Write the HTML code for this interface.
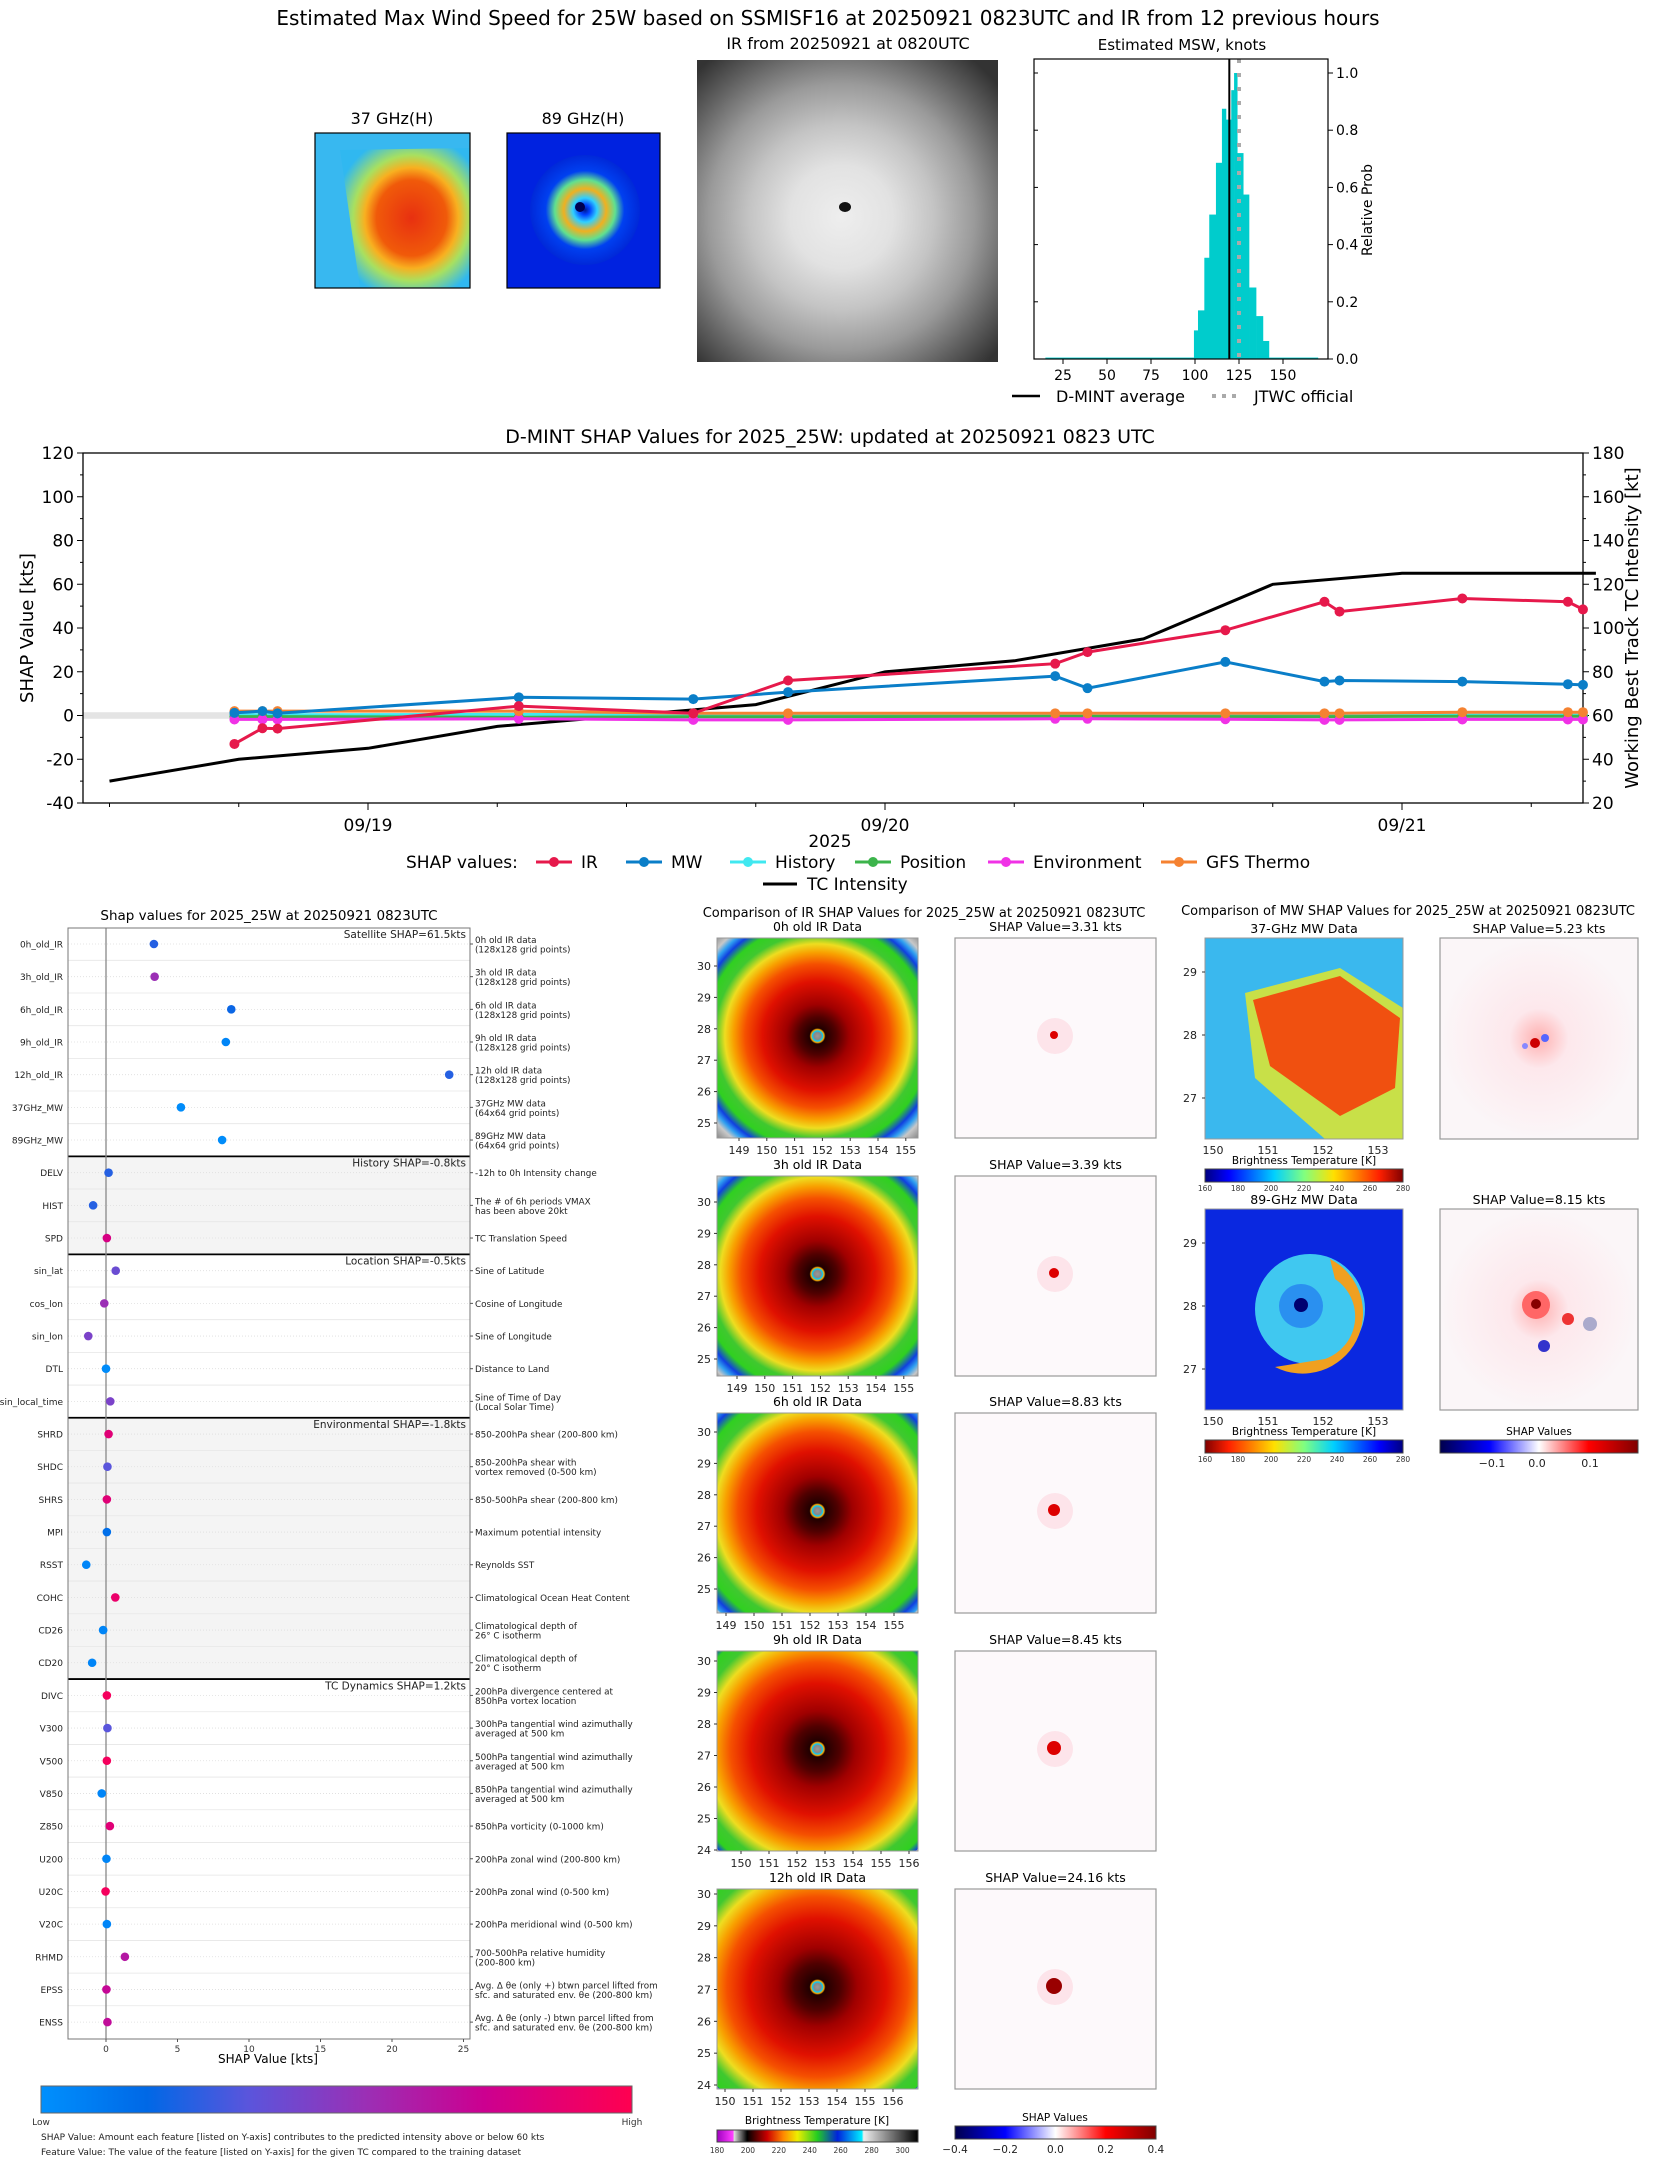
<!DOCTYPE html>
<html><head><meta charset="utf-8">
<style>
body{margin:0;background:#fff;}
svg{display:block;font-family:"DejaVu Sans","Liberation Sans",sans-serif;}
</style></head>
<body>
<svg id="root" width="1655" height="2158" viewBox="0 0 1655 2158" xmlns="http://www.w3.org/2000/svg">
<defs>
  <radialGradient id="gIRgray" cx="0.48" cy="0.52" r="0.68">
    <stop offset="0" stop-color="#eeeeee"/><stop offset="0.25" stop-color="#e2e2e2"/><stop offset="0.45" stop-color="#c4c4c4"/><stop offset="0.65" stop-color="#9a9a9a"/><stop offset="0.85" stop-color="#5e5e5e"/><stop offset="1" stop-color="#333"/>
  </radialGradient>
  <radialGradient id="g37" cx="0.55" cy="0.5" r="0.6">
    <stop offset="0" stop-color="#e83010"/><stop offset="0.45" stop-color="#f05a0a"/><stop offset="0.6" stop-color="#f8b020"/><stop offset="0.75" stop-color="#a8e060"/><stop offset="1" stop-color="#30b8f0"/>
  </radialGradient>
  <radialGradient id="g89" cx="0.5" cy="0.5" r="0.55">
    <stop offset="0" stop-color="#001890"/><stop offset="0.08" stop-color="#0040ff"/><stop offset="0.2" stop-color="#30d0ff"/><stop offset="0.35" stop-color="#f0b020"/><stop offset="0.5" stop-color="#60e090"/><stop offset="0.65" stop-color="#0040f0"/><stop offset="1" stop-color="#0020d0"/>
  </radialGradient>
  <radialGradient id="gSHAPm" cx="0.5" cy="0.5" r="0.5">
    <stop offset="0" stop-color="#ffb0b0"/><stop offset="0.3" stop-color="#fde8ec"/><stop offset="1" stop-color="#fbf6f8"/>
  </radialGradient>
  <linearGradient id="cbShap" x1="0" x2="1">
    <stop offset="0" stop-color="#0090fd"/><stop offset="0.18" stop-color="#0068e6"/><stop offset="0.35" stop-color="#5a55dc"/><stop offset="0.55" stop-color="#9b2fb5"/><stop offset="0.75" stop-color="#cc0090"/><stop offset="1" stop-color="#ff0050"/>
  </linearGradient>
  <linearGradient id="cbIR" x1="0" x2="1">
    <stop offset="0" stop-color="#a000c0"/><stop offset="0.08" stop-color="#ff40ff"/><stop offset="0.085" stop-color="#ddd"/><stop offset="0.15" stop-color="#000"/><stop offset="0.25" stop-color="#c00"/><stop offset="0.33" stop-color="#f80"/><stop offset="0.4" stop-color="#ee0"/><stop offset="0.5" stop-color="#2c2"/><stop offset="0.6" stop-color="#02d"/><stop offset="0.72" stop-color="#0ef"/><stop offset="0.73" stop-color="#eee"/><stop offset="1" stop-color="#000"/>
  </linearGradient>
  <linearGradient id="cbJet" x1="0" x2="1">
    <stop offset="0" stop-color="#000080"/><stop offset="0.12" stop-color="#0000ff"/><stop offset="0.35" stop-color="#00d0ff"/><stop offset="0.5" stop-color="#80ff80"/><stop offset="0.65" stop-color="#ffe000"/><stop offset="0.88" stop-color="#ff2000"/><stop offset="1" stop-color="#800000"/>
  </linearGradient>
  <linearGradient id="cbJetR" x1="1" x2="0">
    <stop offset="0" stop-color="#000080"/><stop offset="0.12" stop-color="#0000ff"/><stop offset="0.35" stop-color="#00d0ff"/><stop offset="0.5" stop-color="#80ff80"/><stop offset="0.65" stop-color="#ffe000"/><stop offset="0.88" stop-color="#ff2000"/><stop offset="1" stop-color="#800000"/>
  </linearGradient>
  <linearGradient id="cbSeis" x1="0" x2="1">
    <stop offset="0" stop-color="#00004c"/><stop offset="0.25" stop-color="#0000ff"/><stop offset="0.5" stop-color="#ffffff"/><stop offset="0.75" stop-color="#ff0000"/><stop offset="1" stop-color="#800000"/>
  </linearGradient>
</defs>

<text x="828" y="25" font-size="20" text-anchor="middle">Estimated Max Wind Speed for 25W based on SSMISF16 at 20250921 0823UTC and IR from 12 previous hours</text>

<text x="392" y="124" font-size="16" text-anchor="middle">37 GHz(H)</text>
<g>
  <rect x="315" y="133" width="155" height="155" fill="#38b8f0"/>
  <polygon points="340,150 470,148 470,288 360,288" fill="url(#g37)"/>
  <rect x="315" y="133" width="155" height="155" fill="none" stroke="#000" stroke-width="1.2"/>
</g>
<text x="583" y="124" font-size="16" text-anchor="middle">89 GHz(H)</text>
<g>
  <rect x="507" y="133" width="153" height="155" fill="#0022e0"/>
  <circle cx="585" cy="210" r="55" fill="url(#g89)"/>
  <circle cx="580" cy="207" r="5" fill="#000050"/>
  <rect x="507" y="133" width="153" height="155" fill="none" stroke="#000" stroke-width="1.2"/>
</g>
<text x="848" y="49" font-size="16" text-anchor="middle">IR from 20250921 at 0820UTC</text>
<g>
  <rect x="697" y="60" width="301" height="302" fill="url(#gIRgray)"/>
  <ellipse cx="845" cy="207" rx="6" ry="5" fill="#111"/>
</g>
<text x="1182" y="50" font-size="15" text-anchor="middle">Estimated MSW, knots</text>
<g id="hist"></g>

<text x="830" y="443" font-size="19" text-anchor="middle">D-MINT SHAP Values for 2025_25W: updated at 20250921 0823 UTC</text>
<g id="ts"></g>

<text x="269" y="920" font-size="13.5" text-anchor="middle">Shap values for 2025_25W at 20250921 0823UTC</text>
<g id="sw"></g>

<text x="924" y="917" font-size="13" text-anchor="middle">Comparison of IR SHAP Values for 2025_25W at 20250921 0823UTC</text>
<g id="irc"></g>

<text x="1408" y="915" font-size="13" text-anchor="middle">Comparison of MW SHAP Values for 2025_25W at 20250921 0823UTC</text>
<g id="mwc"></g>
</svg>

<script>
const histEdges=[99.4,101.7,105.3,108.1,111.9,115.3,117.6,120.6,122.2,124,127.4,130.7,134.7,138.6,142];
const histProb=[0.10,0.17,0.354,0.505,0.686,0.875,0.837,0.94,1.0,0.72,0.575,0.25,0.15,0.063];
const histTail=0.005;
const dmintMean=119.5;
const jtwcOfficial=125;
const histXTicks=[25,50,75,100,125,150];
const histYTicks=[0,0.2,0.4,0.6,0.8,1.0];

const tsHours=[-6.2,-4.9,-4.2,7.0,15.1,19.5,31.9,33.4,39.8,44.4,45.1,50.8,55.7,56.4];
const irVals=[-13,-5.8,-6,4.3,1,16,23.7,29,39,52,47.5,53.5,52,48.5];
const mwVals=[1.2,2,1,8.3,7.5,10.7,18,12.5,24.5,15.5,16,15.5,14.3,14];
const histVals=[0.3,0.3,0.3,0.5,0.2,0.2,0.2,0.2,0.2,0.2,0.2,0.2,0.2,0.2];
const posVals=[-0.5,-0.5,-0.5,-0.8,-0.6,-0.6,-0.4,-0.4,-0.5,-0.5,-0.5,-0.3,-0.3,-0.3];
const envVals=[-1.8,-1.8,-1.8,-1.5,-2,-2,-1.5,-1.5,-1.7,-2,-2,-1.8,-1.8,-1.8];
const gfsVals=[2,2,2,2,1,1,1,1,1,1,1,1.5,1.5,1.5];
const tcHours=[-12,-6,0,6,12,18,24,30,36,42,48,54,57];
const tcVals=[30,40,45,55,60,65,80,85,95,120,125,125,125];
const tsLeftTicks=[-40,-20,0,20,40,60,80,100,120];
const tsRightTicks=[20,40,60,80,100,120,140,160,180];
const tsDateTicks=['09/19','09/20','09/21'];

const feats=['0h_old_IR','3h_old_IR','6h_old_IR','9h_old_IR','12h_old_IR','37GHz_MW','89GHz_MW','DELV','HIST','SPD','sin_lat','cos_lon','sin_lon','DTL','sin_local_time','SHRD','SHDC','SHRS','MPI','RSST','COHC','CD26','CD20','DIVC','V300','V500','V850','Z850','U200','U20C','V20C','RHMD','EPSS','ENSS'];
const shapVals=[3.35,3.4,8.76,8.38,24.0,5.24,8.12,0.18,-0.9,0.06,0.68,-0.12,-1.24,0,0.3,0.18,0.1,0.06,0.06,-1.38,0.65,-0.2,-0.97,0.06,0.1,0.06,-0.3,0.27,0.03,-0.03,0.06,1.32,0.03,0.1];
const featVals=[0.25,0.55,0.2,0.05,0.25,0.02,0.02,0.25,0.25,0.8,0.4,0.55,0.45,0.02,0.45,0.85,0.35,0.85,0.15,0.05,0.9,0.05,0.05,0.95,0.35,0.95,0.05,0.85,0.05,0.95,0.05,0.65,0.72,0.7];
const featDesc=[['0h old IR data','(128x128 grid points)'],['3h old IR data','(128x128 grid points)'],['6h old IR data','(128x128 grid points)'],['9h old IR data','(128x128 grid points)'],['12h old IR data','(128x128 grid points)'],['37GHz MW data','(64x64 grid points)'],['89GHz MW data','(64x64 grid points)'],['-12h to 0h Intensity change'],['The # of 6h periods VMAX','has been above 20kt'],['TC Translation Speed'],['Sine of Latitude'],['Cosine of Longitude'],['Sine of Longitude'],['Distance to Land'],['Sine of Time of Day','(Local Solar Time)'],['850-200hPa shear (200-800 km)'],['850-200hPa shear with','vortex removed (0-500 km)'],['850-500hPa shear (200-800 km)'],['Maximum potential intensity'],['Reynolds SST'],['Climatological Ocean Heat Content'],['Climatological depth of','26° C isotherm'],['Climatological depth of','20° C isotherm'],['200hPa divergence centered at','850hPa vortex location'],['300hPa tangential wind azimuthally','averaged at 500 km'],['500hPa tangential wind azimuthally','averaged at 500 km'],['850hPa tangential wind azimuthally','averaged at 500 km'],['850hPa vorticity (0-1000 km)'],['200hPa zonal wind (200-800 km)'],['200hPa zonal wind (0-500 km)'],['200hPa meridional wind (0-500 km)'],['700-500hPa relative humidity','(200-800 km)'],['Avg. Δ θe (only +) btwn parcel lifted from','sfc. and saturated env. θe (200-800 km)'],['Avg. Δ θe (only -) btwn parcel lifted from','sfc. and saturated env. θe (200-800 km)']];
const groups=[['Satellite SHAP=61.5kts',0,6,false],['History SHAP=-0.8kts',7,9,true],['Location SHAP=-0.5kts',10,14,false],['Environmental SHAP=-1.8kts',15,22,true],['TC Dynamics SHAP=1.2kts',23,33,false]];
const swXTicks=[0,5,10,15,20,25];

const irTitles=['0h old IR Data','3h old IR Data','6h old IR Data','9h old IR Data','12h old IR Data'];
const irShap=['3.31','3.39','8.83','8.45','24.16'];
const mwTitles=['37-GHz MW Data','89-GHz MW Data'];
const mwShap=['5.23','8.15'];

const NS='http://www.w3.org/2000/svg';
function mk(parent,tag,attrs,text){const e=document.createElementNS(NS,tag);for(const k in attrs)e.setAttribute(k,attrs[k]);if(text!==undefined)e.textContent=text;parent.appendChild(e);return e;}

(function(){
  const g=document.getElementById('hist');
  const L=1034,R=1328,T=59,B=359;
  const hx=v=>1107+(v-50)*1.76, hy=p=>B-p*286;
  const tail=mk(g,'rect',{x:hx(15),y:hy(histTail),width:hx(99.4)-hx(15),height:hy(0)-hy(histTail),fill:'#00cccc'});
  
  
  const tail2=mk(g,'rect',{x:hx(142),y:hy(histTail),width:hx(170)-hx(142),height:hy(0)-hy(histTail),fill:'#00cccc'});
  
  
  for(let i=0;i<histProb.length;i++){
    const r=mk(g,'rect',{x:hx(histEdges[i]),y:hy(histProb[i]),width:hx(histEdges[i+1])-hx(histEdges[i])+0.3,height:hy(0)-hy(histProb[i]),fill:'#00cccc'});
    
    
  }
  const ml=mk(g,'line',{x1:hx(dmintMean),x2:hx(dmintMean),y1:T,y2:B,stroke:'#000','stroke-width':2});
  
  
  const jl=mk(g,'line',{x1:hx(jtwcOfficial),x2:hx(jtwcOfficial),y1:T,y2:B,stroke:'#aaa','stroke-width':4,'stroke-dasharray':'4,10'});
  
  
  mk(g,'rect',{x:L,y:T,width:R-L,height:B-T,fill:'none',stroke:'#000','stroke-width':1.2});
  histXTicks.forEach(v=>{mk(g,'line',{x1:hx(v),x2:hx(v),y1:B,y2:B+5,stroke:'#000'});
    const t=mk(g,'text',{x:hx(v),y:B+21,'font-size':14,'text-anchor':'middle'},v);
    
    });
  histYTicks.forEach(v=>{mk(g,'line',{x1:R,x2:R+5,y1:hy(v),y2:hy(v),stroke:'#000'});mk(g,'line',{x1:L,x2:L+4,y1:hy(v),y2:hy(v),stroke:'#000'});
    const t=mk(g,'text',{x:R+8,y:hy(v)+5,'font-size':14},v.toFixed(1));
    
    });
  const yl=mk(g,'text',{x:1372,y:210,'font-size':14,'text-anchor':'middle',transform:'rotate(-90 1372 210)'},'Relative Prob');
  
  
  mk(g,'line',{x1:1012,x2:1040,y1:396,y2:396,stroke:'#000','stroke-width':2.5});
  const l1=mk(g,'text',{x:1056,y:402,'font-size':16},'D-MINT average');
  
  
  mk(g,'line',{x1:1212,x2:1240,y1:396,y2:396,stroke:'#aaa','stroke-width':4,'stroke-dasharray':'4,6'});
  const l2=mk(g,'text',{x:1254,y:402,'font-size':16},'JTWC official');
  
  
})();

(function(){
  const g=document.getElementById('ts');
  const L=83,R=1583,T=453,B=803;
  const tx=h=>368+h*517/24;
  const ly=v=>T+(120-v)*(B-T)/160;
  const ry=v=>T+(180-v)*(B-T)/160;
  mk(g,'rect',{x:L,y:ly(1.5),width:260-L,height:ly(-1.5)-ly(1.5),fill:'#e4e4e4'});
  mk(g,'rect',{x:L,y:T,width:R-L,height:B-T,fill:'none',stroke:'#000','stroke-width':1.3});
  tsLeftTicks.forEach(v=>{mk(g,'line',{x1:L-6,x2:L,y1:ly(v),y2:ly(v),stroke:'#000'});
    const t=mk(g,'text',{x:L-9,y:ly(v)+6,'font-size':17,'text-anchor':'end'},v);
    
    });
  for(let v=-30;v<=110;v+=20)mk(g,'line',{x1:L-3,x2:L,y1:ly(v),y2:ly(v),stroke:'#000'});
  tsRightTicks.forEach(v=>{mk(g,'line',{x1:R,x2:R+6,y1:ry(v),y2:ry(v),stroke:'#000'});
    const t=mk(g,'text',{x:R+9,y:ry(v)+6,'font-size':17},v);
    
    });
  for(let v=30;v<=170;v+=20)mk(g,'line',{x1:R,x2:R+3,y1:ry(v),y2:ry(v),stroke:'#000'});
  for(let h=-12;h<=60;h+=6){mk(g,'line',{x1:tx(h),x2:tx(h),y1:B,y2:B+(h%24===0?7:4),stroke:'#000'});}
  tsDateTicks.forEach((d,i)=>{const t=mk(g,'text',{x:tx(i*24),y:B+28,'font-size':17,'text-anchor':'middle'},d);
    
    });
  const yr=mk(g,'text',{x:830,y:847,'font-size':17,'text-anchor':'middle'},'2025');
  
  
  const yl=mk(g,'text',{x:33,y:628,'font-size':18,'text-anchor':'middle',transform:'rotate(-90 33 628)'},'SHAP Value [kts]');
  
  
  const yr2=mk(g,'text',{x:1638,y:628,'font-size':18,'text-anchor':'middle',transform:'rotate(-90 1638 628)'},'Working Best Track TC Intensity [kt]');
  
  
  function series(vals,color,name){
    const pts=tsHours.map((h,i)=>tx(h).toFixed(1)+','+ly(vals[i]).toFixed(1)).join(' ');
    const p=mk(g,'polyline',{points:pts,fill:'none',stroke:color,'stroke-width':3});
    
    
    tsHours.forEach((h,i)=>{const c=mk(g,'circle',{cx:tx(h),cy:ly(vals[i]),r:5,fill:color});
      
      });
  }
  const tcp=mk(g,'polyline',{points:tcHours.map((h,i)=>tx(h).toFixed(1)+','+ry(tcVals[i]).toFixed(1)).join(' '),fill:'none',stroke:'#000','stroke-width':3});
  
  
  series(histVals,'#40e8f0','history');
  series(posVals,'#3cb44b','position');
  series(envVals,'#f032e6','environment');
  series(gfsVals,'#f58231','gfs-thermo');
  series(mwVals,'#0a7ec8','mw');
  series(irVals,'#e6194b','ir');
  const lt=mk(g,'text',{x:406,y:868,'font-size':17},'SHAP values:');
  
  
  const leg=[['IR','#e6194b',536],['MW','#0a7ec8',626],['History','#40e8f0',730],['Position','#3cb44b',855],['Environment','#f032e6',988],['GFS Thermo','#f58231',1161]];
  leg.forEach(([n,c,x])=>{mk(g,'line',{x1:x,x2:x+36,y1:862,y2:862,stroke:c,'stroke-width':3});mk(g,'circle',{cx:x+18,cy:862,r:5,fill:c});
    const t=mk(g,'text',{x:x+45,y:868,'font-size':17},n);
    
    });
  mk(g,'line',{x1:763,x2:797,y1:884,y2:884,stroke:'#000','stroke-width':3});
  const tl=mk(g,'text',{x:807,y:890,'font-size':17},'TC Intensity');
  
  
})();

(function(){
  const g=document.getElementById('sw');
  const L=68,R=470,T=928,B=2039,r0=944,dr=32.67;
  const sx=v=>106+14.3*v, ry=i=>r0+i*dr;
  const stops=[[0,[0,144,253]],[0.18,[0,104,230]],[0.35,[90,85,220]],[0.55,[155,47,181]],[0.75,[204,0,144]],[1,[255,0,80]]];
  function cmap(t){for(let i=1;i<stops.length;i++){if(t<=stops[i][0]){const a=stops[i-1],b=stops[i],f=(t-a[0])/(b[0]-a[0]);return 'rgb('+a[1].map((c,k)=>Math.round(c+(b[1][k]-c)*f)).join(',')+')';}}return 'rgb(255,0,80)';}
  groups.forEach(([lab,a,b,shade])=>{
    const y1=a===0?T:ry(a)-dr/2, y2=b===33?B:ry(b)+dr/2;
    if(shade)mk(g,'rect',{x:L,y:y1,width:R-L,height:y2-y1,fill:'#f4f4f4'});
    const t=mk(g,'text',{x:R-4,y:ry(a)-6,'font-size':10.5,'text-anchor':'end',fill:'#222'},lab);
    
    
  });
  feats.forEach((f,i)=>{mk(g,'line',{x1:L,x2:R,y1:ry(i),y2:ry(i),stroke:'#ddd','stroke-dasharray':'1,2','stroke-width':0.8});
    if(i<33)mk(g,'line',{x1:L,x2:R,y1:ry(i)+dr/2,y2:ry(i)+dr/2,stroke:'#e6e6e6','stroke-width':0.8});});
  [[6],[9],[14],[22]].forEach(([i])=>mk(g,'line',{x1:L,x2:R,y1:ry(i)+dr/2,y2:ry(i)+dr/2,stroke:'#000','stroke-width':1.8}));
  mk(g,'line',{x1:sx(0),x2:sx(0),y1:T,y2:B,stroke:'#888','stroke-width':1.3});
  mk(g,'rect',{x:L,y:T,width:R-L,height:B-T,fill:'none',stroke:'#777','stroke-width':1});
  feats.forEach((f,i)=>{
    const t=mk(g,'text',{x:L-5,y:ry(i)+3.5,'font-size':9,'text-anchor':'end',fill:'#222'},f);
    
    
    mk(g,'line',{x1:R,x2:R+3,y1:ry(i),y2:ry(i),stroke:'#555'});
    const d=featDesc[i];
    d.forEach((s,k)=>{const tt=mk(g,'text',{x:R+5,y:ry(i)+(d.length===1?3.5:-1+k*9.5),'font-size':8.8,fill:'#222'},s);
      
      });
    const c=mk(g,'circle',{cx:sx(shapVals[i]),cy:ry(i),r:4.3,fill:cmap(featVals[i])});
    
    
  });
  swXTicks.forEach(v=>{mk(g,'line',{x1:sx(v),x2:sx(v),y1:B,y2:B+3,stroke:'#555'});
    const t=mk(g,'text',{x:sx(v),y:B+13,'font-size':9,'text-anchor':'middle',fill:'#333'},v);
    
    });
  const xl=mk(g,'text',{x:268,y:2063,'font-size':12,'text-anchor':'middle'},'SHAP Value [kts]');
  
  
  const cb=mk(g,'rect',{x:41,y:2086,width:591,height:27,fill:'url(#cbShap)',stroke:'#666'});
  
  
  mk(g,'text',{x:41,y:2125,'font-size':9,'text-anchor':'middle',fill:'#333'},'Low');
  mk(g,'text',{x:632,y:2125,'font-size':9,'text-anchor':'middle',fill:'#333'},'High');
  const n1=mk(g,'text',{x:41,y:2140,'font-size':9,fill:'#222'},'SHAP Value: Amount each feature [listed on Y-axis] contributes to the predicted intensity above or below 60 kts');
  
  
  const n2=mk(g,'text',{x:41,y:2155,'font-size':9,fill:'#222'},'Feature Value: The value of the feature [listed on Y-axis] for the given TC compared to the training dataset');
  
  
})();

(function(){
  const g=document.getElementById('irc');
  const tops=[938,1176,1413,1651,1889];
  const latInfo=[[30,28,25,185],[30,26,25,183],[30,19,25,176],[30,10,24,199],[30,5,24,196]];
  const lonInfo=[[149,22,27.8,7],[149,20,27.8,7],[149,9,28,7],[150,24,28,7],[150,8,28,7]];
  const sc=[1.0,1.05,1.1,1.2,1.25];
  const X=717,W=201,SX=955;
  tops.forEach((t,i)=>{
    const id='irg'+i, f=sc[i];
    const rg=mk(document.querySelector('defs'),'radialGradient',{id:id,cx:0.5,cy:0.49,r:0.72});
    const m=o=>Math.min(o*f,0.98);
    [[0,'#999'],[0.025,'#888'],[0.035,'#0cf'],[0.045,'#fa0'],[0.055,'#200000'],[m(0.13),'#500000'],[m(0.22),'#a00000'],[m(0.38),'#e01000'],[m(0.5),'#f55000'],[m(0.58),'#f8a000'],[m(0.64),'#eedd20'],[m(0.71),'#40c830'],[m(0.78),'#30d020'],[m(0.84),'#1040e0'],[m(0.88),'#30a0f0'],[m(0.92),'#c8c8c8'],[1,'#808080']].forEach(([o,c])=>mk(rg,'stop',{offset:o,'stop-color':c}));
    const tt=mk(g,'text',{x:X+W/2,y:t-7,'font-size':12.5,'text-anchor':'middle'},irTitles[i]);
    
    
    const im=mk(g,'rect',{x:X,y:t,width:W,height:200,fill:'url(#'+id+')',stroke:'#999'});
    
    
    const [la0,ly0,la1,ly1]=latInfo[i];
    for(let la=la1;la<=la0;la++){const y=t+ly1+(la-la1)*(ly0-ly1)/(la0-la1);
      mk(g,'line',{x1:X-3,x2:X,y1:y,y2:y,stroke:'#333'});
      mk(g,'text',{x:X-6,y:y+4,'font-size':11,'text-anchor':'end',fill:'#222'},la);}
    const [lo0,lx0,st,n]=lonInfo[i];
    for(let k=0;k<n;k++){const x=X+lx0+k*st;mk(g,'line',{x1:x,x2:x,y1:t+200,y2:t+203,stroke:'#333'});
      mk(g,'text',{x:x,y:t+216,'font-size':11,'text-anchor':'middle',fill:'#222'},lo0+k);}
    const st2=mk(g,'text',{x:SX+W/2,y:t-7,'font-size':12.5,'text-anchor':'middle'},'SHAP Value='+irShap[i]+' kts');
    
    
    const sm=mk(g,'rect',{x:SX,y:t,width:W,height:200,fill:'#fdf9fb',stroke:'#999','stroke-width':1.2});
    
    
    mk(g,'circle',{cx:SX+100,cy:t+98,r:18,fill:'#fde4ea'});
    mk(g,'circle',{cx:SX+99,cy:t+97,r:4+i,fill:i===4?'#900':'#d00'});
  });
  const cb1=mk(g,'rect',{x:717,y:2130,width:201,height:12,fill:'url(#cbIR)',stroke:'#444'});
  
  
  mk(g,'text',{x:817,y:2124,'font-size':10.5,'text-anchor':'middle'},'Brightness Temperature [K]');
  [180,200,220,240,260,280,300].forEach((v,k)=>mk(g,'text',{x:717+(v-180)*201/130,y:2153,'font-size':7.5,'text-anchor':'middle',fill:'#333'},v));
  const cb2=mk(g,'rect',{x:955,y:2126,width:201,height:13,fill:'url(#cbSeis)',stroke:'#444'});
  
  
  mk(g,'text',{x:1055,y:2121,'font-size':10.5,'text-anchor':'middle'},'SHAP Values');
  ['−0.4','−0.2','0.0','0.2','0.4'].forEach((v,k)=>mk(g,'text',{x:955+k*50.2,y:2153,'font-size':10.5,'text-anchor':'middle',fill:'#222'},v));
})();

(function(){
  const g=document.getElementById('mwc');
  const tops=[938,1209];
  const X=1205,W=198,SX=1440;
  tops.forEach((t,i)=>{
    const tt=mk(g,'text',{x:X+W/2,y:t-5,'font-size':12.5,'text-anchor':'middle'},mwTitles[i]);
    
    
    const im=mk(g,'g',{});
    
    
    if(i===0){
      mk(im,'rect',{x:X,y:t,width:W,height:201,fill:'#3ab8ee'});
      mk(im,'polygon',{points:(X+40)+','+(t+55)+' '+(X+135)+','+(t+30)+' '+(X+W)+','+(t+70)+' '+(X+W)+','+(t+201)+' '+(X+120)+','+(t+201)+' '+(X+50)+','+(t+140),fill:'#c8e048'});
      mk(im,'polygon',{points:(X+48)+','+(t+62)+' '+(X+135)+','+(t+38)+' '+(X+195)+','+(t+80)+' '+(X+190)+','+(t+150)+' '+(X+135)+','+(t+178)+' '+(X+65)+','+(t+128),fill:'#f05010'});
    }else{
      mk(im,'rect',{x:X,y:t,width:W,height:201,fill:'#0a28e0'});
      mk(im,'circle',{cx:X+105,cy:t+100,r:55,fill:'#40c8f0'});
      mk(im,'path',{d:'M'+(X+125)+','+(t+50)+' A55,55 0 0 1 '+(X+70)+','+(t+158)+' L'+(X+120)+','+(t+150)+' A45,45 0 0 0 '+(X+130)+','+(t+70)+' Z',fill:'#f0a020'});
      mk(im,'circle',{cx:X+96,cy:t+97,r:22,fill:'#2a90f0'});
      mk(im,'circle',{cx:X+96,cy:t+96,r:7,fill:'#000070'});
    }
    mk(g,'rect',{x:X,y:t,width:W,height:201,fill:'none',stroke:'#999'});
    [[29,34],[28,97],[27,160]].forEach(([la,y])=>{mk(g,'line',{x1:X-3,x2:X,y1:t+y,y2:t+y,stroke:'#333'});mk(g,'text',{x:X-8,y:t+y+4,'font-size':11,'text-anchor':'end',fill:'#222'},la);});
    [150,151,152,153].forEach((lo,k)=>{mk(g,'text',{x:X+8+k*55,y:t+216,'font-size':11,'text-anchor':'middle',fill:'#222'},lo);});
    const st=mk(g,'text',{x:SX+99,y:t-5,'font-size':12.5,'text-anchor':'middle'},'SHAP Value='+mwShap[i]+' kts');
    
    
    const sm=mk(g,'rect',{x:SX,y:t,width:W,height:201,fill:'url(#gSHAPm)',stroke:'#999','stroke-width':1.2});
    
    
    if(i===0){mk(g,'circle',{cx:SX+95,cy:t+105,r:5,fill:'#c00'});mk(g,'circle',{cx:SX+105,cy:t+100,r:4,fill:'#56f'});mk(g,'circle',{cx:SX+85,cy:t+108,r:3,fill:'#88f'});}
    else{mk(g,'circle',{cx:SX+96,cy:t+96,r:14,fill:'#f66'});mk(g,'circle',{cx:SX+96,cy:t+95,r:5,fill:'#800'});mk(g,'circle',{cx:SX+104,cy:t+137,r:6,fill:'#33c'});mk(g,'circle',{cx:SX+128,cy:t+110,r:6,fill:'#e33'});mk(g,'circle',{cx:SX+150,cy:t+115,r:7,fill:'#aac'});}
    const cb=mk(g,'rect',{x:X,y:t+231,width:W,height:13,fill:i===0?'url(#cbJet)':'url(#cbJetR)',stroke:'#444'});
    
    
    mk(g,'text',{x:X+W/2,y:t+226,'font-size':10.5,'text-anchor':'middle'},'Brightness Temperature [K]');
    [160,180,200,220,240,260,280].forEach((v,k)=>mk(g,'text',{x:X+k*W/6,y:t+253,'font-size':7.5,'text-anchor':'middle',fill:'#333'},v));
  });
  const cb=mk(g,'rect',{x:1440,y:1440,width:198,height:13,fill:'url(#cbSeis)',stroke:'#444'});
  
  
  mk(g,'text',{x:1539,y:1435,'font-size':10.5,'text-anchor':'middle'},'SHAP Values');
  [['−0.1',1492],['0.0',1537],['0.1',1590]].forEach(([s,x])=>mk(g,'text',{x:x,y:1467,'font-size':11,'text-anchor':'middle',fill:'#222'},s));
})();
</script>
</body></html>
